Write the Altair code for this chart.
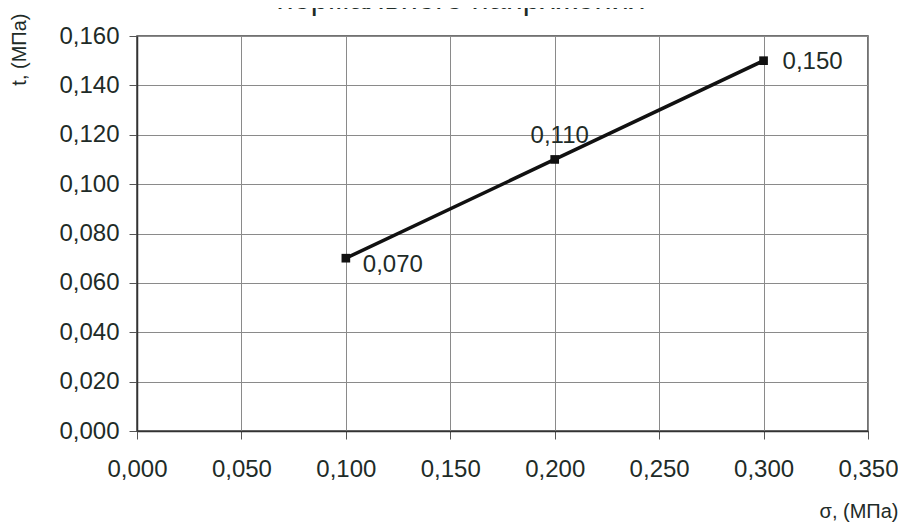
import altair as alt
import pandas as pd

sigma = [0.100, 0.200, 0.300]
tau = [0.070, 0.110, 0.150]
labels = ["0,070", "0,110", "0,150"]
x_ticks = [0.0, 0.05, 0.10, 0.15, 0.20, 0.25, 0.30, 0.35]
y_ticks = [0.0, 0.02, 0.04, 0.06, 0.08, 0.10, 0.12, 0.14, 0.16]
title_line = "нормального напряжения"
x_title = "σ, (МПа)"
y_title = "t, (МПа)"

df = pd.DataFrame({"sigma": sigma, "tau": tau, "label": labels})

INK = "#1e2b27"
FONT = "Liberation Sans"
W, H = 731, 395
lab_expr = "replace(format(datum.value, '.3f'), '.', ',')"

x = alt.X("sigma:Q", scale=alt.Scale(domain=[0, 0.35], nice=False, zero=False),
          axis=alt.Axis(values=x_ticks, labelExpr=lab_expr, title=x_title,
                        titleX=W + 30, titleY=90, titleAlign="right",
                        titleBaseline="bottom",
                        titleFontSize=20, titleFontWeight="normal",
                        labelFontSize=24, labelPadding=18, tickSize=8,
                        labelFlush=False, labelOverlap=False,
                        grid=True))
y = alt.Y("tau:Q", scale=alt.Scale(domain=[0, 0.16], nice=False, zero=False),
          axis=alt.Axis(values=y_ticks, labelExpr=lab_expr, title=y_title,
                        titleX=-118, titleY=-23, titleAngle=-90,
                        titleAlign="right", titleBaseline="middle",
                        titleFontSize=20, titleFontWeight="normal",
                        labelFontSize=24, labelPadding=10, tickSize=8,
                        labelFlush=False, labelOverlap=False,
                        grid=True))

base = alt.Chart(df)

line = base.mark_line(color="#111", strokeWidth=3.5).encode(x=x, y=y)
pts = base.mark_square(color="#111", size=75, opacity=1).encode(x="sigma:Q", y="tau:Q")

def lab(i, align, dx, dy):
    return base.transform_filter(alt.datum.label == labels[i]).mark_text(
        align=align, baseline="middle", dx=dx, dy=dy, fontSize=24, font=FONT, color=INK
    ).encode(x="sigma:Q", y="tau:Q", text="label:N")

t1 = lab(0, "left", 17, 7)
t2 = lab(1, "center", 5, -23)
t3 = lab(2, "left", 19, 1)

ttl = alt.Chart(pd.DataFrame({"t": [title_line]})).mark_text(
    fontSize=31, font=FONT, color=INK, align="center", baseline="alphabetic"
).encode(x=alt.value(324), y=alt.value(-27), text="t:N")

chart = alt.layer(line, pts, t1, t2, t3, ttl).properties(
    width=W, height=H,
    autosize=alt.AutoSizeParams(type="none"),
    padding={"left": 129, "top": 28, "right": 30, "bottom": 91},
).configure_view(
    stroke="#444", strokeWidth=1.5
).configure_axis(
    gridColor="#8a8a8a", gridWidth=1, domainColor="#333", domainWidth=1.5,
    tickColor="#555", labelColor=INK, titleColor=INK,
    labelFont=FONT, titleFont=FONT
)

chart.save("out.html", embed_options={"renderer": "svg", "actions": False})
